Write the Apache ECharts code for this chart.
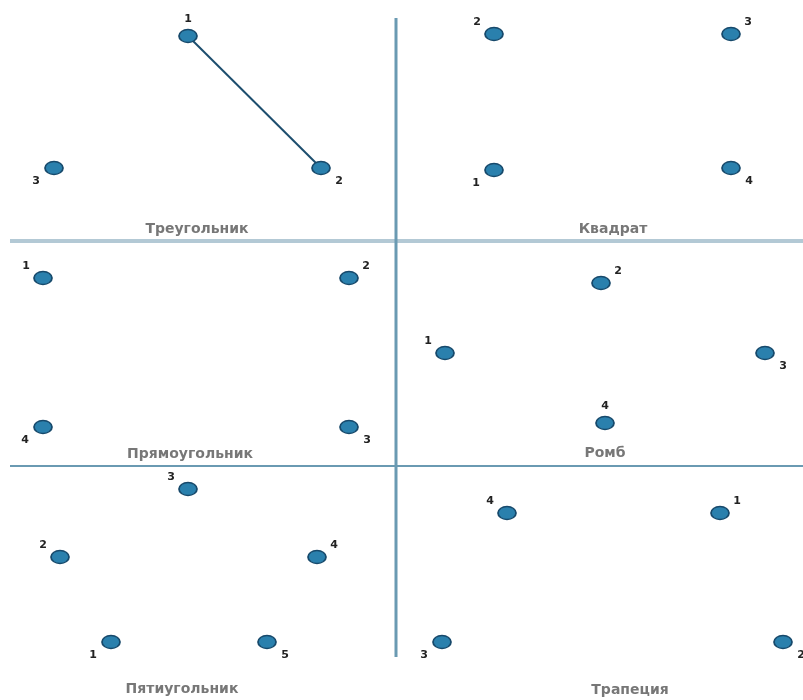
<!DOCTYPE html>
<html>
<head>
<meta charset="utf-8">
<script src="https://cdn.jsdelivr.net/npm/echarts@6/dist/echarts.min.js"></script>
<style>html,body{margin:0;padding:0;background:#fff}#c{width:803px;height:700px}</style>
</head>
<body>
<div id="c"></div>
<script>
// Panel titles and their anchor points (plane coordinates, 0..803 x 0..700)
const titles = ['Треугольник', 'Квадрат', 'Прямоугольник', 'Ромб', 'Пятиугольник', 'Трапеция'];
const titleX = [197, 613, 190, 605, 182, 630];
const titleY = [229, 229, 454, 453, 689, 690];

// Vertices of each figure
const triX = [188, 321, 54];
const triY = [36, 168, 168];
const triN = ['1', '2', '3'];
const triP = ['t', 'br', 'bl'];

const sqX = [494, 494, 731, 731];
const sqY = [170, 34, 34, 168];
const sqN = ['1', '2', '3', '4'];
const sqP = ['bl', 'tl', 'tr', 'br'];

const recX = [43, 349, 349, 43];
const recY = [278, 278, 427, 427];
const recN = ['1', '2', '3', '4'];
const recP = ['tl', 'tr', 'br', 'bl'];

const rhX = [445, 601, 765, 605];
const rhY = [353, 283, 353, 423];
const rhN = ['1', '2', '3', '4'];
const rhP = ['tl', 'tr', 'br', 't'];

const penX = [111, 60, 188, 317, 267];
const penY = [642, 557, 489, 557, 642];
const penN = ['1', '2', '3', '4', '5'];
const penP = ['bl', 'tl', 'tl', 'tr', 'br'];

const trapX = [720, 783, 442, 507];
const trapY = [513, 642, 642, 513];
const trapN = ['1', '2', '3', '4'];
const trapP = ['tr', 'br', 'bl', 'tl'];

// Segment drawn in the triangle (vertex 1 -> vertex 2)
const segIdx = [0, 1];

// Divider lines
const divV = [[396, 18], [396, 657]];
const divH1 = [[10, 241], [803, 241]];
const divH2 = [[10, 466], [803, 466]];

const offs = { t: [0, -17], tl: [-17, -12], tr: [17, -12], bl: [-18, 13], br: [18, 13] };

function pts(xs, ys, ns, ps) {
  return xs.map((x, i) => ({
    value: [x, ys[i]],
    label: { offset: offs[ps[i]] },
    name: ns[i]
  }));
}

const figs = [
  [triX, triY, triN, triP],
  [sqX, sqY, sqN, sqP],
  [recX, recY, recN, recP],
  [rhX, rhY, rhN, rhP],
  [penX, penY, penN, penP],
  [trapX, trapY, trapN, trapP]
];

const series = [];
function divider(data, color, width) {
  series.push({
    type: 'line', data: data, symbol: 'none', silent: true, z: 1,
    lineStyle: { color: color, width: width }, animation: false
  });
}
divider(divH1, '#b3c9d5', 4);
divider(divH2, '#6a9ab2', 2);
divider(divV, '#6a9ab2', 3);

series.push({
  type: 'line', symbol: 'none', z: 2, animation: false,
  data: segIdx.map(i => [triX[i], triY[i]]),
  lineStyle: { color: '#1d4e6e', width: 2 }
});

figs.forEach(f => {
  series.push({
    type: 'scatter', z: 5, animation: false,
    symbol: 'circle', symbolSize: [18, 13],
    itemStyle: { color: '#2a80ad', borderColor: '#17496b', borderWidth: 1.5, opacity: 1 },
    label: {
      show: true, position: 'inside', formatter: p => p.name,
      fontFamily: 'DejaVu Sans', fontSize: 11, fontWeight: 'bold', color: '#222'
    },
    data: pts(f[0], f[1], f[2], f[3])
  });
});

series.push({
  type: 'scatter', z: 4, animation: false, symbolSize: 0,
  data: titles.map((t, i) => ({ value: [titleX[i], titleY[i]], name: t })),
  label: {
    show: true, position: 'inside', formatter: p => p.name,
    fontFamily: 'DejaVu Sans', fontSize: 14, fontWeight: 'bold', color: '#555'
  }
});

const chart = echarts.init(document.getElementById('c'), null, { renderer: 'canvas' });
chart.setOption({
  animation: false,
  backgroundColor: '#ffffff',
  grid: { left: 0, right: 0, top: 0, bottom: 0 },
  xAxis: { type: 'value', min: 0, max: 803, show: false },
  yAxis: { type: 'value', min: 0, max: 700, inverse: true, show: false },
  series: series
});
</script>
</body>
</html>
